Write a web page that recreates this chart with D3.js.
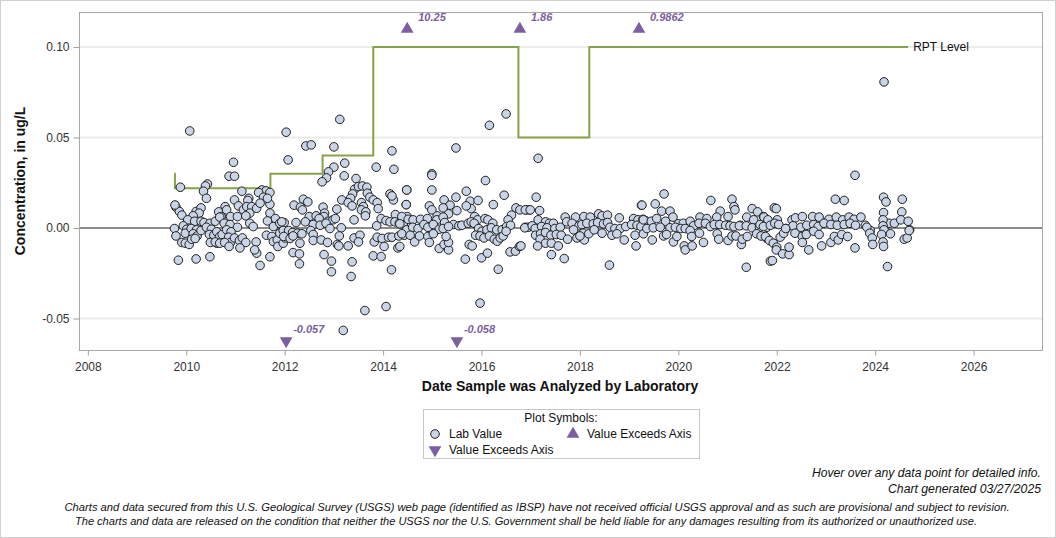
<!DOCTYPE html>
<html>
<head>
<meta charset="utf-8">
<script src="https://cdn.jsdelivr.net/npm/d3@7"></script>
<style>
  body { margin: 0; background: #fff; }
  svg { display: block; font-family: "Liberation Sans", Arial, sans-serif; }
  .axis text { font-size: 12px; fill: #333; }
  .axis path, .axis line { stroke: #a0a0a0; }
  .foot { font-family: "Liberation Sans Narrow", "Arial Narrow", "Liberation Sans", sans-serif; font-style: italic; fill: #111; }
</style>
</head>
<body>
<svg width="1056" height="538"></svg>
<script>
// lab values: [decimal year, concentration ug/L]
var labValues = [
  [2010.07,0.0536],[2010.96,0.0363],[2010.87,0.0286],[2010.98,0.0286],[2009.88,0.0225],[2010.43,0.0243],[2010.39,0.0232],
  [2010.35,0.0203],[2010.41,0.0164],[2011.13,0.0203],[2011.54,0.0210],[2011.62,0.0205],[2011.70,0.0196],[2011.47,0.0196],
  [2011.57,0.0170],[2011.70,0.0131],[2011.27,0.0164],[2011.25,0.0152],[2010.98,0.0155],[2010.79,0.0118],[2010.66,0.0089],
  [2010.71,0.0063],[2010.82,0.0100],[2010.90,0.0063],[2011.06,0.0122],[2011.16,0.0100],[2011.04,0.0063],[2011.23,0.0118],
  [2011.33,0.0118],[2011.29,0.0082],[2011.21,0.0067],[2011.43,0.0109],[2011.50,0.0137],[2009.79,0.0115],[2009.86,0.0091],
  [2009.91,0.0071],[2010.20,0.0091],[2010.30,0.0111],[2010.26,0.0082],[2010.14,0.0067],[2010.03,0.0045],[2010.17,0.0037],
  [2010.30,0.0037],[2010.36,0.0030],[2010.48,0.0026],[2010.59,0.0037],[2010.68,0.0060],[2010.77,0.0026],[2010.89,0.0019],
  [2011.04,0.0004],[2011.29,0.0026],[2011.36,0.0008],[2011.70,0.0082],[2011.81,0.0052],[2011.65,0.0039],[2011.77,0.0008],
  [2011.90,0.0026],[2011.99,0.0030],[2009.76,-0.0003],[2009.79,-0.0044],[2009.94,0.0012],[2010.01,-0.0007],[2009.98,-0.0029],
  [2010.10,-0.0003],[2010.21,-0.0010],[2010.14,-0.0032],[2010.22,-0.0044],[2010.30,-0.0014],[2010.41,0.0004],[2010.51,-0.0007],
  [2010.47,-0.0036],[2010.56,-0.0040],[2010.62,-0.0021],[2010.68,-0.0047],[2010.73,-0.0036],[2010.82,-0.0010],[2010.91,-0.0021],
  [2010.86,-0.0051],[2010.90,-0.0080],[2010.98,-0.0055],[2011.08,-0.0069],[2011.14,-0.0055],[2011.21,-0.0080],[2011.09,-0.0110],
  [2011.42,-0.0077],[2011.43,-0.0139],[2011.50,-0.0207],[2011.70,-0.0159],[2011.63,-0.0040],[2011.74,-0.0047],[2011.77,-0.0075],
  [2011.85,-0.0066],[2011.86,-0.0102],[2011.97,-0.0084],[2012.01,-0.0055],[2009.91,-0.0080],[2009.98,-0.0084],[2010.06,-0.0091],
  [2010.11,-0.0062],[2010.18,-0.0058],[2009.84,-0.0178],[2010.20,-0.0171],[2010.48,-0.0159],[2010.62,-0.0084],[2010.49,-0.0080],
  [2010.59,-0.0077],[2010.68,-0.0084],[2010.78,-0.0080],[2010.87,-0.0102],[2011.39,-0.0121],[2011.90,-0.0029],[2011.65,0.0164],
  [2009.77,0.0127],
  [2013.12,0.0600],[2012.03,0.0529],[2012.43,0.0453],[2012.54,0.0459],[2013.00,0.0448],[2012.07,0.0376],[2014.18,0.0426],
  [2013.86,0.0336],[2014.22,0.0324],[2013.22,0.0358],[2013.00,0.0336],[2012.89,0.0310],[2012.85,0.0277],[2012.76,0.0255],
  [2013.21,0.0288],[2013.45,0.0273],[2013.42,0.0214],[2013.50,0.0229],[2013.58,0.0232],[2013.67,0.0225],[2013.38,0.0188],
  [2013.34,0.0164],[2013.68,0.0192],[2013.73,0.0170],[2013.80,0.0155],[2013.88,0.0140],[2013.16,0.0155],[2013.29,0.0140],
  [2013.37,0.0122],[2013.56,0.0140],[2013.60,0.0118],[2013.56,0.0100],[2013.65,0.0089],[2013.64,0.0067],[2013.90,0.0107],
  [2014.14,0.0188],[2014.21,0.0155],[2014.18,0.0177],[2014.48,0.0210],[2014.47,0.0129],[2014.25,0.0074],[2012.19,0.0126],
  [2012.38,0.0159],[2012.47,0.0144],[2012.32,0.0115],[2012.36,0.0100],[2012.78,0.0115],[2012.81,0.0082],[2012.80,0.0063],
  [2013.06,0.0104],[2012.50,0.0063],[2012.64,0.0067],[2012.70,0.0052],[2012.88,0.0037],[2012.98,0.0045],[2013.03,0.0052],
  [2012.23,0.0030],[2012.42,0.0034],[2011.94,0.0034],[2012.58,0.0019],[2012.72,0.0015],[2012.84,0.0026],
  [2012.92,-0.0003],[2013.15,0.0001],[2013.41,0.0045],[2013.87,0.0012],[2013.96,0.0052],[2014.06,0.0041],[2014.14,0.0034],
  [2014.24,0.0034],[2014.33,0.0026],[2014.41,0.0023],[2014.49,0.0063],[2011.97,-0.0014],[2012.08,-0.0014],[2012.16,-0.0025],
  [2012.26,-0.0029],[2012.35,-0.0032],[2011.98,-0.0047],[2012.11,-0.0058],[2012.17,-0.0044],[2012.31,-0.0084],[2012.17,-0.0136],
  [2012.30,-0.0143],[2012.30,-0.0198],[2012.53,-0.0014],[2012.58,-0.0036],[2012.58,-0.0069],[2012.74,-0.0066],[2012.87,-0.0080],
  [2012.80,-0.0147],[2012.95,-0.0183],[2012.95,-0.0242],[2013.11,-0.0044],[2013.07,-0.0091],[2013.10,-0.0099],[2013.29,-0.0099],
  [2013.37,-0.0187],[2013.35,-0.0268],[2013.41,-0.0055],[2013.53,-0.0040],[2013.50,-0.0077],[2013.82,-0.0077],[2013.88,-0.0051],
  [2013.98,-0.0058],[2014.02,-0.0102],[2013.80,-0.0154],[2013.96,-0.0158],[2014.11,-0.0051],[2014.18,-0.0051],[2014.32,-0.0044],
  [2014.43,-0.0040],[2014.30,-0.0110],[2014.17,-0.0231],[2013.63,-0.0456],[2014.06,-0.0434],[2013.19,-0.0566],
  [2016.50,0.0630],[2016.16,0.0567],[2015.48,0.0442],[2014.99,0.0299],[2014.99,0.0291],[2016.08,0.0262],[2014.48,0.0210],
  [2014.99,0.0210],[2015.69,0.0203],[2016.46,0.0181],[2014.47,0.0129],[2015.24,0.0155],[2015.36,0.0126],[2015.48,0.0170],
  [2015.77,0.0148],[2015.93,0.0152],[2015.79,0.0107],[2015.69,0.0122],[2016.24,0.0129],[2014.94,0.0122],[2014.99,0.0100],
  [2015.10,0.0067],[2015.22,0.0111],[2015.33,0.0078],[2015.50,0.0096],[2016.70,0.0111],[2016.61,0.0071],[2016.54,0.0045],
  [2016.91,0.0100],[2016.97,0.0100],[2014.38,0.0063],[2014.51,0.0048],[2014.61,0.0045],[2014.76,0.0048],[2014.90,0.0052],
  [2015.09,0.0045],[2015.22,0.0060],[2015.25,0.0030],[2015.86,0.0063],[2015.92,0.0045],[2016.07,0.0052],[2016.13,0.0045],
  [2016.23,0.0026],[2015.43,0.0019],[2015.54,0.0012],[2015.60,0.0015],[2015.73,0.0026],[2015.79,0.0034],[2015.85,0.0026],
  [2014.34,0.0023],[2014.48,-0.0010],[2014.60,0.0004],[2014.71,-0.0003],[2014.83,0.0019],[2014.91,0.0004],[2015.02,0.0019],
  [2015.14,-0.0007],[2015.22,-0.0003],[2015.33,0.0008],[2015.94,-0.0003],[2016.01,-0.0018],[2016.11,-0.0010],[2016.20,0.0001],
  [2016.31,-0.0010],[2016.42,-0.0010],[2016.51,0.0008],[2016.59,0.0015],[2016.89,0.0004],[2016.95,0.0004],[2014.38,-0.0032],
  [2014.34,-0.0102],[2014.55,-0.0040],[2014.64,-0.0077],[2014.74,-0.0044],[2014.91,-0.0047],[2014.94,-0.0080],[2015.02,-0.0032],
  [2015.14,-0.0113],[2015.24,-0.0091],[2015.33,-0.0121],[2015.33,-0.0080],[2015.28,-0.0047],[2015.67,-0.0172],[2015.75,-0.0091],
  [2015.81,-0.0099],[2015.88,-0.0040],[2015.97,-0.0044],[2016.00,-0.0165],[2016.12,-0.0139],[2016.05,-0.0055],[2016.16,-0.0044],
  [2016.26,-0.0062],[2016.32,-0.0073],[2016.38,-0.0055],[2016.34,-0.0228],[2016.44,-0.0044],[2016.50,-0.0018],[2016.58,-0.0132],
  [2016.69,-0.0128],[2016.77,-0.0102],[2015.97,-0.0415],
  [2016.78,0.0100],[2016.89,0.0100],[2016.99,0.0100],[2017.18,0.0096],[2017.15,0.0385],[2017.11,0.0170],[2019.25,0.0126],
  [2017.70,0.0060],[2017.91,0.0060],[2018.08,0.0063],[2018.21,0.0060],[2018.38,0.0078],[2018.45,0.0067],[2018.56,0.0071],
  [2018.80,0.0056],[2019.09,0.0052],[2019.18,0.0045],[2019.28,0.0048],[2019.33,0.0041],[2017.15,0.0045],[2017.30,0.0034],
  [2017.38,0.0026],[2017.46,0.0026],[2016.88,0.0001],[2017.03,0.0012],[2017.09,-0.0003],[2017.22,0.0008],[2017.33,0.0001],
  [2017.49,-0.0003],[2017.60,0.0004],[2017.73,0.0034],[2017.84,0.0026],[2017.98,0.0012],[2018.04,0.0019],[2018.14,0.0026],
  [2018.27,0.0023],[2018.36,0.0030],[2018.48,0.0023],[2018.56,0.0030],[2018.61,0.0004],[2018.71,-0.0003],[2018.82,-0.0003],
  [2018.93,0.0008],[2019.05,0.0019],[2019.16,0.0015],[2019.24,0.0008],[2017.10,-0.0040],[2017.20,-0.0032],[2017.30,-0.0025],
  [2017.41,-0.0040],[2017.52,-0.0036],[2017.62,-0.0040],[2017.19,-0.0062],[2017.30,-0.0084],[2017.14,-0.0099],[2017.42,-0.0084],
  [2017.56,-0.0099],[2017.42,-0.0147],[2017.68,-0.0169],[2017.75,-0.0062],[2017.87,-0.0010],[2017.94,-0.0055],[2018.06,-0.0029],
  [2018.09,-0.0066],[2018.18,-0.0032],[2018.29,-0.0010],[2018.45,-0.0029],[2018.60,-0.0205],[2018.65,-0.0040],[2018.75,-0.0032],
  [2018.90,-0.0066],[2019.12,-0.0040],[2019.14,-0.0099],[2019.29,-0.0032],[2016.80,-0.0099],[2018.00,-0.0044],
  [2019.71,0.0188],[2020.66,0.0152],[2021.09,0.0159],[2019.53,0.0133],[2019.66,0.0093],[2019.83,0.0093],[2021.13,0.0118],
  [2021.15,0.0100],[2020.85,0.0093],[2021.50,0.0107],[2021.61,0.0089],[2021.73,0.0063],[2019.26,0.0126],[2019.89,0.0060],
  [2020.44,0.0060],[2020.58,0.0052],[2020.78,0.0060],[2021.01,0.0063],[2021.26,0.0015],[2021.39,0.0060],[2021.53,0.0045],
  [2021.76,0.0019],[2019.29,0.0045],[2019.45,0.0037],[2019.56,0.0052],[2019.74,0.0037],[2020.00,0.0023],[2020.10,0.0026],
  [2020.24,0.0037],[2020.31,0.0012],[2020.42,0.0026],[2020.55,0.0026],[2020.65,0.0008],[2020.73,0.0019],[2020.84,0.0019],
  [2020.96,0.0015],[2021.05,0.0012],[2021.13,0.0008],[2021.24,0.0012],[2021.38,0.0012],[2021.50,0.0001],[2021.65,0.0004],
  [2021.80,0.0004],[2019.36,-0.0003],[2019.49,0.0001],[2019.63,0.0004],[2019.83,0.0001],[2019.94,0.0004],[2020.05,-0.0003],
  [2020.14,-0.0003],[2020.24,-0.0014],[2019.47,-0.0066],[2019.70,-0.0044],[2019.76,-0.0036],[2019.90,-0.0077],[2019.97,-0.0047],
  [2020.12,-0.0099],[2020.14,-0.0121],[2020.28,-0.0099],[2020.27,-0.0047],[2020.51,-0.0080],[2020.43,-0.0029],[2020.79,-0.0032],
  [2020.82,-0.0062],[2021.01,-0.0069],[2021.09,-0.0044],[2021.17,-0.0044],[2021.28,-0.0091],[2021.30,-0.0062],[2021.40,-0.0047],
  [2021.38,-0.0217],[2021.59,-0.0032],[2021.68,-0.0044],[2021.80,-0.0058],[2021.87,-0.0183],
  [2023.59,0.0291],[2023.19,0.0159],[2023.37,0.0152],[2024.17,0.0170],[2024.22,0.0144],[2024.55,0.0159],[2021.95,0.0111],
  [2021.99,0.0107],[2024.17,0.0085],[2024.54,0.0089],[2021.74,0.0060],[2021.82,0.0045],[2022.01,0.0045],[2022.31,0.0045],
  [2022.38,0.0056],[2022.52,0.0063],[2022.73,0.0063],[2022.86,0.0060],[2023.06,0.0048],[2023.21,0.0060],[2023.34,0.0045],
  [2023.47,0.0060],[2023.57,0.0048],[2023.71,0.0060],[2021.66,0.0019],[2021.73,0.0008],[2021.87,0.0015],[2021.96,0.0026],
  [2022.04,0.0019],[2022.19,-0.0003],[2022.33,0.0012],[2022.49,0.0004],[2022.61,0.0015],[2022.75,0.0019],[2022.84,0.0008],
  [2022.96,0.0026],[2023.10,0.0019],[2023.23,0.0015],[2023.37,0.0019],[2023.49,0.0026],[2023.60,0.0015],[2023.80,0.0015],
  [2023.90,-0.0014],[2024.28,0.0026],[2024.39,0.0026],[2024.52,0.0045],[2024.67,0.0037],[2024.70,-0.0010],[2024.16,0.0045],
  [2024.16,0.0012],[2024.18,-0.0010],[2024.13,-0.0036],[2021.77,-0.0047],[2021.85,-0.0069],[2021.93,-0.0084],[2022.00,-0.0106],
  [2022.07,-0.0051],[2022.14,-0.0029],[2022.18,-0.0003],[2021.99,-0.0121],[2022.12,-0.0143],[2022.25,-0.0147],[2022.25,-0.0106],
  [2021.91,-0.0180],[2022.37,-0.0029],[2022.52,-0.0047],[2022.60,-0.0036],[2022.52,-0.0080],[2022.65,-0.0121],[2022.91,-0.0099],
  [2022.75,-0.0018],[2022.86,-0.0036],[2023.10,-0.0080],[2023.17,-0.0047],[2023.25,-0.0066],[2023.32,-0.0036],[2023.44,-0.0047],
  [2023.59,-0.0110],[2023.83,0.0004],[2023.89,-0.0029],[2023.94,-0.0055],[2023.95,-0.0091],[2024.16,-0.0077],[2024.17,-0.0102],
  [2024.25,-0.0213],[2024.31,-0.0032],[2024.59,-0.0062],[2024.65,-0.0055],[2024.69,-0.0014],[2024.18,0.0807]
];

// reporting level steps
var rptDates  = [2009.76, 2009.77, 2011.71, 2012.77, 2013.80, 2016.75, 2018.19, 2024.67];
var rptLevels = [0.030,   0.022,   0.030,   0.040,   0.100,   0.050,   0.100,   0.100];

// values beyond the axis
var highDates  = [2014.49, 2016.78, 2019.20];
var highLabels = ["10.25", "1.86", "0.9862"];
var lowDates   = [2012.03, 2015.50];
var lowLabels  = ["-0.057", "-0.058"];

var xTicks = [2008, 2010, 2012, 2014, 2016, 2018, 2020, 2022, 2024, 2026];
var yTicks = [-0.05, 0, 0.05, 0.10];

var svg = d3.select("svg");
var plotL = 79, plotR = 1042, plotT = 12, plotB = 350;
var purple = "#7b5fa0", green = "#86a24a";

var x = d3.scaleLinear().domain([2007.82, 2027.39]).range([plotL, plotR]);
var y = d3.scaleLinear().domain([-0.0674, 0.1193]).range([plotB, plotT]);

svg.append("rect").attr("x", 0.5).attr("y", 0.5).attr("width", 1055).attr("height", 537)
  .attr("fill", "none").attr("stroke", "#d0d0d0");

// grid
svg.append("g").selectAll("line").data(yTicks).enter().append("line")
  .attr("x1", plotL).attr("x2", plotR)
  .attr("y1", function (d) { return y(d); }).attr("y2", function (d) { return y(d); })
  .attr("stroke", function (d) { return d == 0 ? "#8c8c8c" : "#ececec"; })
  .attr("stroke-width", 2);

svg.append("rect").attr("x", plotL + 0.5).attr("y", plotT + 0.5)
  .attr("width", plotR - plotL).attr("height", plotB - plotT)
  .attr("fill", "none").attr("stroke", "#a8a8a8");

svg.append("g").attr("class", "axis").attr("transform", "translate(0," + (plotB + 0.5) + ")")
  .call(d3.axisBottom(x).tickValues(xTicks).tickFormat(d3.format("d")).tickSize(5).tickSizeOuter(0))
  .call(function (g) { g.select(".domain").remove(); g.selectAll("text").attr("dy", "1.05em"); });

svg.append("g").attr("class", "axis").attr("transform", "translate(" + (plotL + 0.5) + ",0)")
  .call(d3.axisLeft(y).tickValues(yTicks).tickFormat(d3.format(".2f")).tickSize(6).tickSizeOuter(0))
  .call(function (g) { g.select(".domain").remove(); g.selectAll("text").attr("x", -10).text(function (d) { return d3.format(".2f")(d).replace("−", "-"); }); });

svg.append("text").attr("x", 560).attr("y", 391).attr("text-anchor", "middle")
  .attr("font-size", 14).attr("font-weight", "bold").attr("fill", "#111")
  .text("Date Sample was Analyzed by Laboratory");

svg.append("text").attr("transform", "translate(25,181) rotate(-90)").attr("text-anchor", "middle")
  .attr("font-size", 14).attr("font-weight", "bold").attr("fill", "#111")
  .text("Concentration, in ug/L");

// RPT level step line
var rpt = rptDates.map(function (d, i) { return [d, rptLevels[i]]; });
svg.append("path").datum(rpt)
  .attr("d", d3.line().x(function (d) { return x(d[0]); }).y(function (d) { return y(d[1]); }).curve(d3.curveStepAfter))
  .attr("fill", "none").attr("stroke", green).attr("stroke-width", 2);
svg.append("text").attr("x", x(rptDates[rptDates.length - 1]) + 5).attr("y", y(0.10)).attr("dy", "0.35em")
  .attr("font-size", 12).attr("fill", "#111").text("RPT Level");

// points
svg.append("g").selectAll("circle").data(labValues).enter().append("circle")
  .attr("cx", function (d) { return x(d[0]); })
  .attr("cy", function (d) { return y(d[1]); })
  .attr("r", 4.3)
  .attr("fill", "#c9d5e6").attr("stroke", "#1e1e1e").attr("stroke-width", 1);

// exceed markers
var tri = d3.symbol().type(d3.symbolTriangle).size(70);
var hi = svg.append("g").selectAll("g").data(highDates).enter().append("g")
  .attr("transform", function (d) { return "translate(" + x(d) + "," + (plotT + 17) + ")"; });
hi.append("path").attr("d", tri).attr("fill", purple);
hi.append("text").attr("x", 11).attr("y", -8).attr("font-size", 11).attr("font-weight", "bold")
  .attr("font-style", "italic").attr("fill", purple).text(function (d, i) { return highLabels[i]; });

var lo = svg.append("g").selectAll("g").data(lowDates).enter().append("g")
  .attr("transform", function (d) { return "translate(" + x(d) + "," + (plotB - 9) + ")"; });
lo.append("path").attr("d", tri).attr("transform", "rotate(180)").attr("fill", purple);
lo.append("text").attr("x", 7).attr("y", -8).attr("font-size", 11).attr("font-weight", "bold")
  .attr("font-style", "italic").attr("fill", purple).text(function (d, i) { return lowLabels[i]; });

// legend
var lg = svg.append("g").attr("transform", "translate(423,409)");
lg.append("rect").attr("x", 0.5).attr("y", 0.5).attr("width", 276).attr("height", 49)
  .attr("fill", "#fff").attr("stroke", "#c8c8c8");
lg.append("text").attr("x", 138).attr("y", 13).attr("text-anchor", "middle").attr("font-size", 12).attr("fill", "#111").text("Plot Symbols:");
lg.append("circle").attr("cx", 12).attr("cy", 25).attr("r", 4.3).attr("fill", "#c9d5e6").attr("stroke", "#1e1e1e");
lg.append("text").attr("x", 26).attr("y", 29).attr("font-size", 12).attr("fill", "#111").text("Lab Value");
lg.append("path").attr("d", tri).attr("transform", "translate(150,25)").attr("fill", purple);
lg.append("text").attr("x", 164).attr("y", 29).attr("font-size", 12).attr("fill", "#111").text("Value Exceeds Axis");
lg.append("path").attr("d", tri).attr("transform", "translate(12,41) rotate(180)").attr("fill", purple);
lg.append("text").attr("x", 26).attr("y", 45).attr("font-size", 12).attr("fill", "#111").text("Value Exceeds Axis");

// footer
function foot(t, xPos, yPos, anchor, size, len) {
  svg.append("text").attr("class", "foot").attr("x", xPos).attr("y", yPos).attr("text-anchor", anchor)
    .attr("font-size", size).attr("textLength", len).attr("lengthAdjust", "spacingAndGlyphs").text(t);
}
foot("Hover over any data point for detailed info.", 1041, 477, "end", 12, 229);
foot("Chart generated 03/27/2025", 1041, 493, "end", 12, 153);
foot("Charts and data secured from this U.S. Geological Survey (USGS) web page (identified as IBSP) have not received official USGS approval and as such are provisional and subject to revision.", 537, 511, "middle", 11, 945);
foot("The charts and data are released on the condition that neither the USGS nor the U.S. Government shall be held liable for any damages resulting from its authorized or unauthorized use.", 526, 525, "middle", 11, 902);
</script>
</body>
</html>
